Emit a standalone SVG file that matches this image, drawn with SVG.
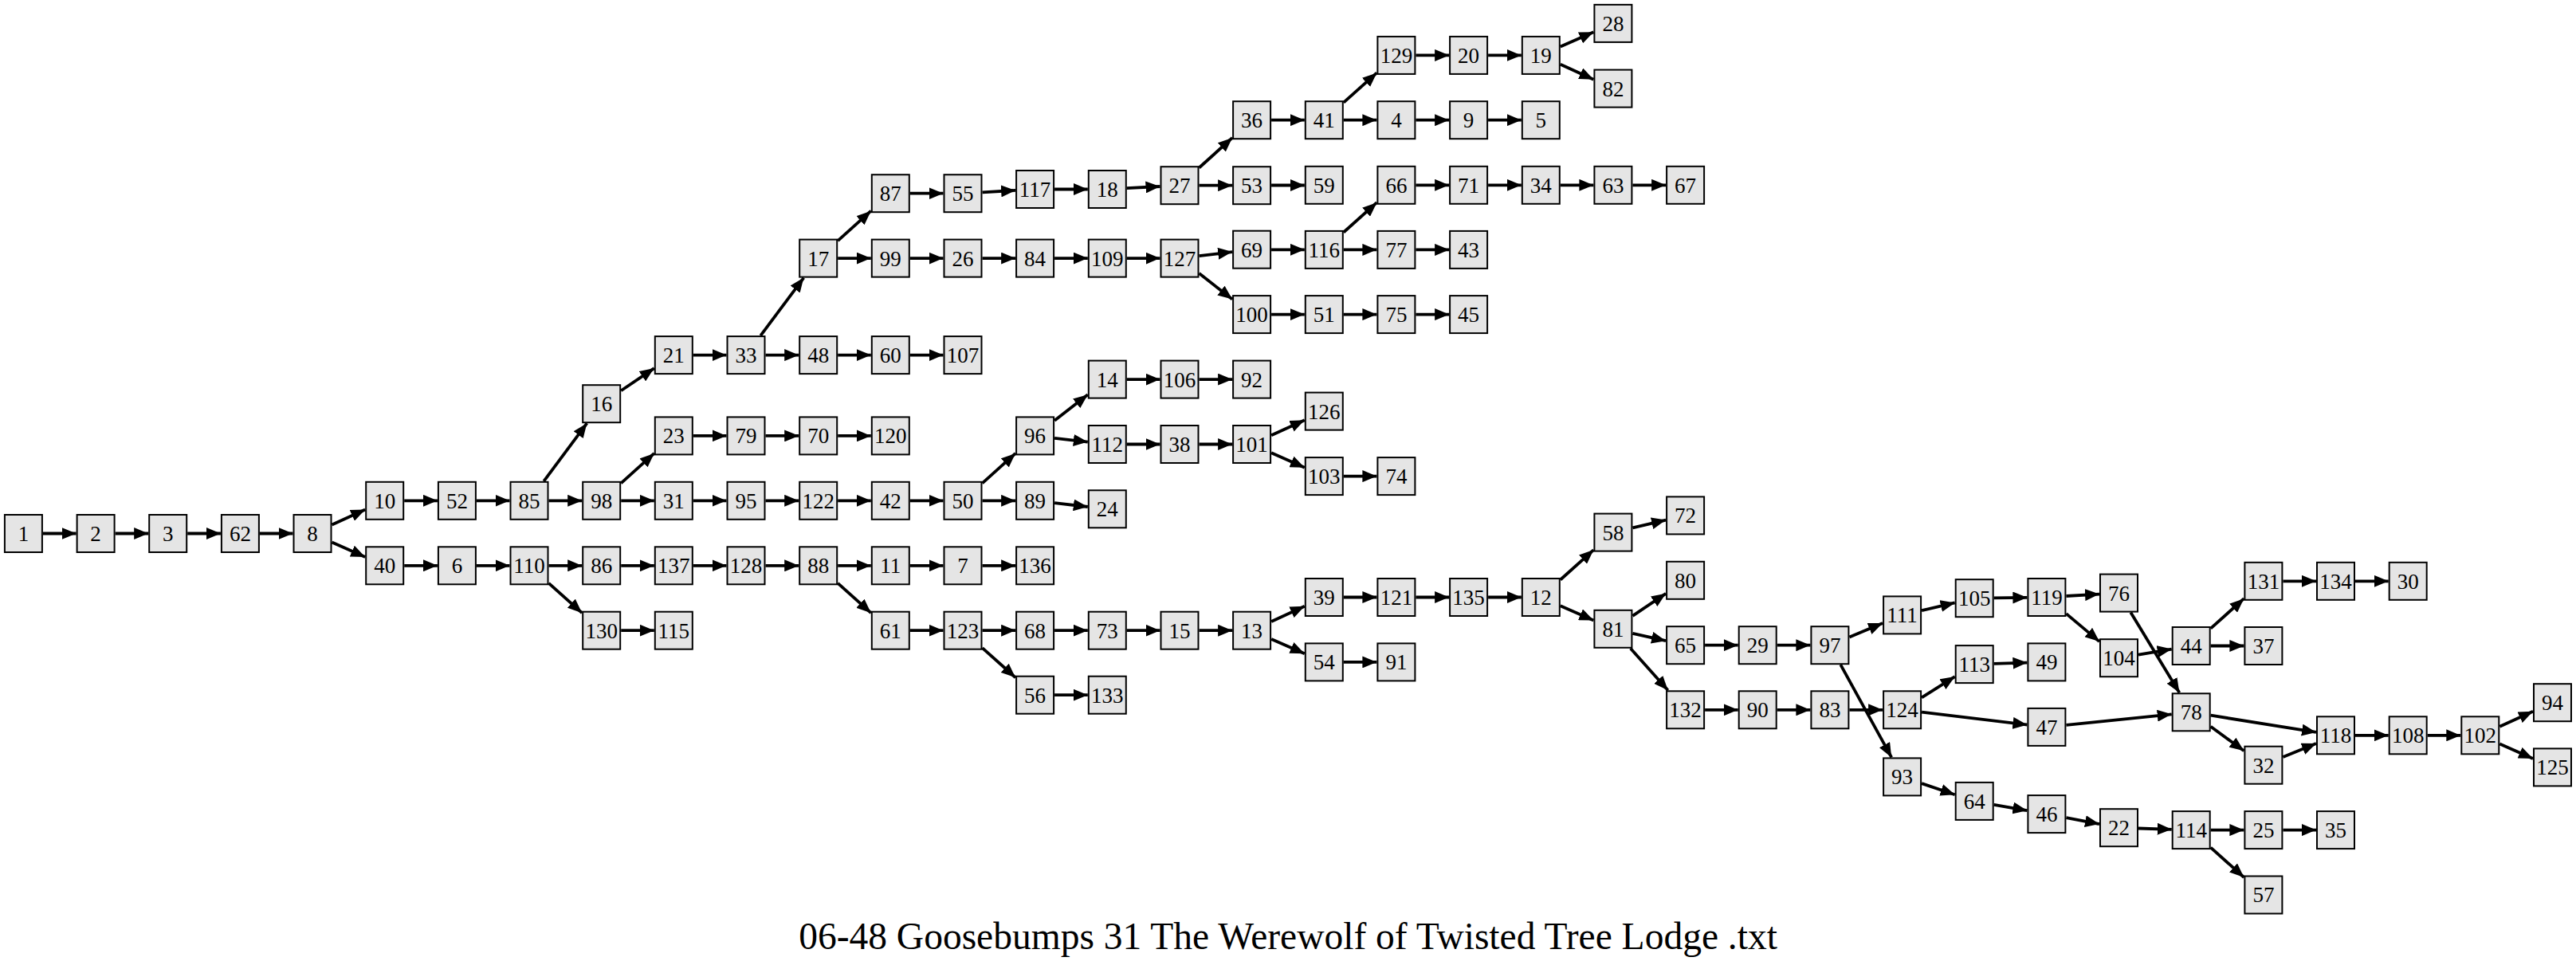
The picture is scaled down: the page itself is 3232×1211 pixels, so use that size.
<svg xmlns="http://www.w3.org/2000/svg" width="3232" height="1211" viewBox="0 0 3232 1211">
<style>
.node rect{fill:#e5e5e5;stroke:#000;stroke-width:2}
.node text{font-size:27px;text-anchor:middle;fill:#000}
#edges path{stroke:#000;stroke-width:3.8;fill:none;marker-end:url(#arr)}
.title{font-size:47.5px;text-anchor:middle;fill:#000}
</style>
<defs>
<marker id="arr" markerUnits="userSpaceOnUse" markerWidth="18" markerHeight="15" refX="18" refY="7.5" orient="auto" viewBox="0 0 18 15"><path d="M0,0 L18,7.5 L0,15 z" fill="#000"/></marker>
</defs>
<rect width="3232" height="1211" fill="#fff"/>
<g id="edges">
<path d="M53.9,669.5 L95.6,669.5"/>
<path d="M144.6,669.5 L186.2,669.5"/>
<path d="M235.2,669.5 L276.9,669.5"/>
<path d="M325.9,669.5 L367.5,669.5"/>
<path d="M416.5,658.4 L458.2,639.4"/>
<path d="M416.5,680.4 L458.2,698.9"/>
<path d="M507.2,628.3 L548.9,628.3"/>
<path d="M597.9,628.3 L639.5,628.3"/>
<path d="M682.3,603.8 L736.4,531.2"/>
<path d="M688.5,628.3 L730.2,628.3"/>
<path d="M779.2,490.2 L820.8,462.1"/>
<path d="M869.8,445.6 L911.5,445.6"/>
<path d="M954.3,421.1 L1008.4,348.6"/>
<path d="M960.5,445.6 L1002.2,445.6"/>
<path d="M1051.2,445.6 L1092.8,445.6"/>
<path d="M1141.8,445.6 L1183.5,445.6"/>
<path d="M1051.2,302.1 L1092.8,264.7"/>
<path d="M1051.2,324.1 L1092.8,324.1"/>
<path d="M1141.8,242.7 L1183.5,242.7"/>
<path d="M1232.5,241.3 L1274.1,238.9"/>
<path d="M1323.1,237.5 L1364.8,237.5"/>
<path d="M1413.8,236.2 L1455.5,234.0"/>
<path d="M1504.5,210.5 L1546.1,172.9"/>
<path d="M1504.5,232.7 L1546.1,232.7"/>
<path d="M1595.1,150.7 L1636.8,150.7"/>
<path d="M1685.8,128.7 L1727.4,91.4"/>
<path d="M1685.8,150.7 L1727.4,150.7"/>
<path d="M1776.4,150.7 L1818.1,150.7"/>
<path d="M1867.1,150.7 L1908.8,150.7"/>
<path d="M1776.4,69.4 L1818.1,69.4"/>
<path d="M1867.1,69.4 L1908.8,69.4"/>
<path d="M1957.8,58.6 L1999.4,40.2"/>
<path d="M1957.8,80.7 L1999.4,99.8"/>
<path d="M1595.1,232.5 L1636.8,232.5"/>
<path d="M1141.8,324.1 L1183.5,324.1"/>
<path d="M1232.5,324.1 L1274.1,324.1"/>
<path d="M1323.1,324.1 L1364.8,324.1"/>
<path d="M1413.8,324.1 L1455.5,324.1"/>
<path d="M1504.5,321.2 L1546.1,316.1"/>
<path d="M1504.5,343.1 L1546.1,375.6"/>
<path d="M1595.1,313.3 L1636.8,313.3"/>
<path d="M1685.8,291.5 L1727.4,254.2"/>
<path d="M1685.8,313.4 L1727.4,313.4"/>
<path d="M1776.4,313.4 L1818.1,313.4"/>
<path d="M1776.4,232.3 L1818.1,232.3"/>
<path d="M1867.1,232.3 L1908.8,232.3"/>
<path d="M1957.8,232.3 L1999.4,232.3"/>
<path d="M2048.4,232.3 L2090.1,232.3"/>
<path d="M1595.1,394.6 L1636.8,394.6"/>
<path d="M1685.8,394.6 L1727.4,394.6"/>
<path d="M1776.4,394.6 L1818.1,394.6"/>
<path d="M779.2,606.3 L820.8,568.9"/>
<path d="M779.2,628.3 L820.8,628.3"/>
<path d="M869.8,546.9 L911.5,546.9"/>
<path d="M960.5,546.9 L1002.2,546.9"/>
<path d="M1051.2,546.9 L1092.8,546.9"/>
<path d="M869.8,628.3 L911.5,628.3"/>
<path d="M960.5,628.3 L1002.2,628.3"/>
<path d="M1051.2,628.3 L1092.8,628.3"/>
<path d="M1141.8,628.3 L1183.5,628.3"/>
<path d="M1232.5,606.3 L1274.1,568.9"/>
<path d="M1232.5,628.3 L1274.1,628.3"/>
<path d="M1323.1,527.8 L1364.8,495.2"/>
<path d="M1323.1,549.8 L1364.8,554.6"/>
<path d="M1413.8,476.1 L1455.5,476.1"/>
<path d="M1504.5,476.1 L1546.1,476.1"/>
<path d="M1413.8,557.5 L1455.5,557.5"/>
<path d="M1504.5,557.5 L1546.1,557.5"/>
<path d="M1595.1,546.3 L1636.8,527.3"/>
<path d="M1595.1,568.3 L1636.8,586.8"/>
<path d="M1685.8,597.6 L1727.4,597.6"/>
<path d="M1323.1,631.1 L1364.8,636.0"/>
<path d="M507.2,709.8 L548.9,709.8"/>
<path d="M597.9,709.8 L639.5,709.8"/>
<path d="M688.5,709.8 L730.2,709.8"/>
<path d="M688.5,731.8 L730.2,769.2"/>
<path d="M779.2,709.8 L820.8,709.8"/>
<path d="M869.8,709.8 L911.5,709.8"/>
<path d="M960.5,709.8 L1002.2,709.8"/>
<path d="M1051.2,709.8 L1092.8,709.8"/>
<path d="M1051.2,731.8 L1092.8,769.2"/>
<path d="M1141.8,709.8 L1183.5,709.8"/>
<path d="M1232.5,709.8 L1274.1,709.8"/>
<path d="M779.2,791.2 L820.8,791.2"/>
<path d="M1141.8,791.2 L1183.5,791.2"/>
<path d="M1232.5,791.2 L1274.1,791.2"/>
<path d="M1232.5,813.1 L1274.1,850.3"/>
<path d="M1323.1,791.2 L1364.8,791.2"/>
<path d="M1413.8,791.2 L1455.5,791.2"/>
<path d="M1504.5,791.2 L1546.1,791.2"/>
<path d="M1595.1,779.9 L1636.8,760.8"/>
<path d="M1595.1,801.9 L1636.8,820.2"/>
<path d="M1323.1,872.2 L1364.8,872.2"/>
<path d="M1685.8,749.5 L1727.4,749.5"/>
<path d="M1776.4,749.5 L1818.1,749.5"/>
<path d="M1867.1,749.5 L1908.8,749.5"/>
<path d="M1957.8,727.5 L1999.4,690.1"/>
<path d="M1957.8,760.3 L1999.4,778.5"/>
<path d="M1685.8,830.9 L1727.4,830.9"/>
<path d="M2048.4,662.4 L2090.1,652.6"/>
<path d="M2048.4,772.8 L2090.1,744.8"/>
<path d="M2048.4,794.8 L2090.1,804.2"/>
<path d="M2045.8,813.8 L2092.7,866.3"/>
<path d="M2139.1,809.7 L2180.7,809.7"/>
<path d="M2229.7,809.7 L2271.4,809.7"/>
<path d="M2320.4,799.5 L2362.1,782.1"/>
<path d="M2309.3,834.2 L2373.2,950.4"/>
<path d="M2411.1,766.2 L2452.7,756.4"/>
<path d="M2501.7,750.4 L2543.4,749.8"/>
<path d="M2592.4,748.0 L2634.0,745.6"/>
<path d="M2592.4,770.1 L2634.0,805.1"/>
<path d="M2673.3,768.6 L2734.4,869.3"/>
<path d="M2683.0,821.6 L2724.7,814.6"/>
<path d="M2773.7,788.6 L2815.4,751.2"/>
<path d="M2773.7,810.5 L2815.4,810.5"/>
<path d="M2864.4,729.3 L2906.0,729.3"/>
<path d="M2955.0,729.3 L2996.7,729.3"/>
<path d="M2139.1,890.8 L2180.7,890.8"/>
<path d="M2229.7,890.8 L2271.4,890.8"/>
<path d="M2320.4,890.8 L2362.1,890.8"/>
<path d="M2411.1,875.3 L2452.7,849.1"/>
<path d="M2411.1,893.7 L2543.4,909.5"/>
<path d="M2501.7,832.9 L2543.4,831.6"/>
<path d="M2592.4,909.9 L2724.7,896.3"/>
<path d="M2773.7,897.7 L2906.0,918.9"/>
<path d="M2773.7,911.7 L2815.4,942.3"/>
<path d="M2864.4,950.1 L2906.0,932.9"/>
<path d="M2955.0,922.8 L2996.7,922.8"/>
<path d="M3045.7,922.8 L3087.3,922.8"/>
<path d="M3136.3,911.7 L3178.0,892.8"/>
<path d="M3136.3,933.6 L3178.0,952.0"/>
<path d="M2411.1,983.1 L2452.7,997.2"/>
<path d="M2501.7,1009.8 L2543.4,1017.2"/>
<path d="M2592.4,1026.2 L2634.0,1034.1"/>
<path d="M2683.0,1039.5 L2724.7,1040.8"/>
<path d="M2773.7,1041.6 L2815.4,1041.6"/>
<path d="M2773.7,1063.6 L2815.4,1101.0"/>
<path d="M2864.4,1041.6 L2906.0,1041.6"/>
</g>
<g id="nodes" font-family="Liberation Serif, Times New Roman, DejaVu Serif, serif">
<g id="n1" class="node" transform="translate(29.4,669.5)"><rect x="-23.5" y="-23.5" width="47" height="47"/><text y="9.4">1</text></g>
<g id="n2" class="node" transform="translate(120.1,669.5)"><rect x="-23.5" y="-23.5" width="47" height="47"/><text y="9.4">2</text></g>
<g id="n3" class="node" transform="translate(210.7,669.5)"><rect x="-23.5" y="-23.5" width="47" height="47"/><text y="9.4">3</text></g>
<g id="n62" class="node" transform="translate(301.4,669.5)"><rect x="-23.5" y="-23.5" width="47" height="47"/><text y="9.4">62</text></g>
<g id="n8" class="node" transform="translate(392.0,669.5)"><rect x="-23.5" y="-23.5" width="47" height="47"/><text y="9.4">8</text></g>
<g id="n10" class="node" transform="translate(482.7,628.3)"><rect x="-23.5" y="-23.5" width="47" height="47"/><text y="9.4">10</text></g>
<g id="n40" class="node" transform="translate(482.7,709.8)"><rect x="-23.5" y="-23.5" width="47" height="47"/><text y="9.4">40</text></g>
<g id="n52" class="node" transform="translate(573.4,628.3)"><rect x="-23.5" y="-23.5" width="47" height="47"/><text y="9.4">52</text></g>
<g id="n6" class="node" transform="translate(573.4,709.8)"><rect x="-23.5" y="-23.5" width="47" height="47"/><text y="9.4">6</text></g>
<g id="n85" class="node" transform="translate(664.0,628.3)"><rect x="-23.5" y="-23.5" width="47" height="47"/><text y="9.4">85</text></g>
<g id="n110" class="node" transform="translate(664.0,709.8)"><rect x="-23.5" y="-23.5" width="47" height="47"/><text y="9.4">110</text></g>
<g id="n16" class="node" transform="translate(754.7,506.7)"><rect x="-23.5" y="-23.5" width="47" height="47"/><text y="9.4">16</text></g>
<g id="n98" class="node" transform="translate(754.7,628.3)"><rect x="-23.5" y="-23.5" width="47" height="47"/><text y="9.4">98</text></g>
<g id="n86" class="node" transform="translate(754.7,709.8)"><rect x="-23.5" y="-23.5" width="47" height="47"/><text y="9.4">86</text></g>
<g id="n130" class="node" transform="translate(754.7,791.2)"><rect x="-23.5" y="-23.5" width="47" height="47"/><text y="9.4">130</text></g>
<g id="n21" class="node" transform="translate(845.3,445.6)"><rect x="-23.5" y="-23.5" width="47" height="47"/><text y="9.4">21</text></g>
<g id="n23" class="node" transform="translate(845.3,546.9)"><rect x="-23.5" y="-23.5" width="47" height="47"/><text y="9.4">23</text></g>
<g id="n31" class="node" transform="translate(845.3,628.3)"><rect x="-23.5" y="-23.5" width="47" height="47"/><text y="9.4">31</text></g>
<g id="n137" class="node" transform="translate(845.3,709.8)"><rect x="-23.5" y="-23.5" width="47" height="47"/><text y="9.4">137</text></g>
<g id="n115" class="node" transform="translate(845.3,791.2)"><rect x="-23.5" y="-23.5" width="47" height="47"/><text y="9.4">115</text></g>
<g id="n33" class="node" transform="translate(936.0,445.6)"><rect x="-23.5" y="-23.5" width="47" height="47"/><text y="9.4">33</text></g>
<g id="n79" class="node" transform="translate(936.0,546.9)"><rect x="-23.5" y="-23.5" width="47" height="47"/><text y="9.4">79</text></g>
<g id="n95" class="node" transform="translate(936.0,628.3)"><rect x="-23.5" y="-23.5" width="47" height="47"/><text y="9.4">95</text></g>
<g id="n128" class="node" transform="translate(936.0,709.8)"><rect x="-23.5" y="-23.5" width="47" height="47"/><text y="9.4">128</text></g>
<g id="n17" class="node" transform="translate(1026.7,324.1)"><rect x="-23.5" y="-23.5" width="47" height="47"/><text y="9.4">17</text></g>
<g id="n48" class="node" transform="translate(1026.7,445.6)"><rect x="-23.5" y="-23.5" width="47" height="47"/><text y="9.4">48</text></g>
<g id="n70" class="node" transform="translate(1026.7,546.9)"><rect x="-23.5" y="-23.5" width="47" height="47"/><text y="9.4">70</text></g>
<g id="n122" class="node" transform="translate(1026.7,628.3)"><rect x="-23.5" y="-23.5" width="47" height="47"/><text y="9.4">122</text></g>
<g id="n88" class="node" transform="translate(1026.7,709.8)"><rect x="-23.5" y="-23.5" width="47" height="47"/><text y="9.4">88</text></g>
<g id="n87" class="node" transform="translate(1117.3,242.7)"><rect x="-23.5" y="-23.5" width="47" height="47"/><text y="9.4">87</text></g>
<g id="n99" class="node" transform="translate(1117.3,324.1)"><rect x="-23.5" y="-23.5" width="47" height="47"/><text y="9.4">99</text></g>
<g id="n60" class="node" transform="translate(1117.3,445.6)"><rect x="-23.5" y="-23.5" width="47" height="47"/><text y="9.4">60</text></g>
<g id="n120" class="node" transform="translate(1117.3,546.9)"><rect x="-23.5" y="-23.5" width="47" height="47"/><text y="9.4">120</text></g>
<g id="n42" class="node" transform="translate(1117.3,628.3)"><rect x="-23.5" y="-23.5" width="47" height="47"/><text y="9.4">42</text></g>
<g id="n11" class="node" transform="translate(1117.3,709.8)"><rect x="-23.5" y="-23.5" width="47" height="47"/><text y="9.4">11</text></g>
<g id="n61" class="node" transform="translate(1117.3,791.2)"><rect x="-23.5" y="-23.5" width="47" height="47"/><text y="9.4">61</text></g>
<g id="n55" class="node" transform="translate(1208.0,242.7)"><rect x="-23.5" y="-23.5" width="47" height="47"/><text y="9.4">55</text></g>
<g id="n26" class="node" transform="translate(1208.0,324.1)"><rect x="-23.5" y="-23.5" width="47" height="47"/><text y="9.4">26</text></g>
<g id="n107" class="node" transform="translate(1208.0,445.6)"><rect x="-23.5" y="-23.5" width="47" height="47"/><text y="9.4">107</text></g>
<g id="n50" class="node" transform="translate(1208.0,628.3)"><rect x="-23.5" y="-23.5" width="47" height="47"/><text y="9.4">50</text></g>
<g id="n7" class="node" transform="translate(1208.0,709.8)"><rect x="-23.5" y="-23.5" width="47" height="47"/><text y="9.4">7</text></g>
<g id="n123" class="node" transform="translate(1208.0,791.2)"><rect x="-23.5" y="-23.5" width="47" height="47"/><text y="9.4">123</text></g>
<g id="n117" class="node" transform="translate(1298.6,237.5)"><rect x="-23.5" y="-23.5" width="47" height="47"/><text y="9.4">117</text></g>
<g id="n84" class="node" transform="translate(1298.6,324.1)"><rect x="-23.5" y="-23.5" width="47" height="47"/><text y="9.4">84</text></g>
<g id="n96" class="node" transform="translate(1298.6,546.9)"><rect x="-23.5" y="-23.5" width="47" height="47"/><text y="9.4">96</text></g>
<g id="n89" class="node" transform="translate(1298.6,628.3)"><rect x="-23.5" y="-23.5" width="47" height="47"/><text y="9.4">89</text></g>
<g id="n136" class="node" transform="translate(1298.6,709.8)"><rect x="-23.5" y="-23.5" width="47" height="47"/><text y="9.4">136</text></g>
<g id="n68" class="node" transform="translate(1298.6,791.2)"><rect x="-23.5" y="-23.5" width="47" height="47"/><text y="9.4">68</text></g>
<g id="n56" class="node" transform="translate(1298.6,872.2)"><rect x="-23.5" y="-23.5" width="47" height="47"/><text y="9.4">56</text></g>
<g id="n18" class="node" transform="translate(1389.3,237.5)"><rect x="-23.5" y="-23.5" width="47" height="47"/><text y="9.4">18</text></g>
<g id="n109" class="node" transform="translate(1389.3,324.1)"><rect x="-23.5" y="-23.5" width="47" height="47"/><text y="9.4">109</text></g>
<g id="n14" class="node" transform="translate(1389.3,476.1)"><rect x="-23.5" y="-23.5" width="47" height="47"/><text y="9.4">14</text></g>
<g id="n112" class="node" transform="translate(1389.3,557.5)"><rect x="-23.5" y="-23.5" width="47" height="47"/><text y="9.4">112</text></g>
<g id="n24" class="node" transform="translate(1389.3,638.8)"><rect x="-23.5" y="-23.5" width="47" height="47"/><text y="9.4">24</text></g>
<g id="n73" class="node" transform="translate(1389.3,791.2)"><rect x="-23.5" y="-23.5" width="47" height="47"/><text y="9.4">73</text></g>
<g id="n133" class="node" transform="translate(1389.3,872.2)"><rect x="-23.5" y="-23.5" width="47" height="47"/><text y="9.4">133</text></g>
<g id="n27" class="node" transform="translate(1480.0,232.7)"><rect x="-23.5" y="-23.5" width="47" height="47"/><text y="9.4">27</text></g>
<g id="n127" class="node" transform="translate(1480.0,324.1)"><rect x="-23.5" y="-23.5" width="47" height="47"/><text y="9.4">127</text></g>
<g id="n106" class="node" transform="translate(1480.0,476.1)"><rect x="-23.5" y="-23.5" width="47" height="47"/><text y="9.4">106</text></g>
<g id="n38" class="node" transform="translate(1480.0,557.5)"><rect x="-23.5" y="-23.5" width="47" height="47"/><text y="9.4">38</text></g>
<g id="n15" class="node" transform="translate(1480.0,791.2)"><rect x="-23.5" y="-23.5" width="47" height="47"/><text y="9.4">15</text></g>
<g id="n36" class="node" transform="translate(1570.6,150.7)"><rect x="-23.5" y="-23.5" width="47" height="47"/><text y="9.4">36</text></g>
<g id="n53" class="node" transform="translate(1570.6,232.7)"><rect x="-23.5" y="-23.5" width="47" height="47"/><text y="9.4">53</text></g>
<g id="n69" class="node" transform="translate(1570.6,313.2)"><rect x="-23.5" y="-23.5" width="47" height="47"/><text y="9.4">69</text></g>
<g id="n100" class="node" transform="translate(1570.6,394.6)"><rect x="-23.5" y="-23.5" width="47" height="47"/><text y="9.4">100</text></g>
<g id="n92" class="node" transform="translate(1570.6,476.1)"><rect x="-23.5" y="-23.5" width="47" height="47"/><text y="9.4">92</text></g>
<g id="n101" class="node" transform="translate(1570.6,557.5)"><rect x="-23.5" y="-23.5" width="47" height="47"/><text y="9.4">101</text></g>
<g id="n13" class="node" transform="translate(1570.6,791.2)"><rect x="-23.5" y="-23.5" width="47" height="47"/><text y="9.4">13</text></g>
<g id="n41" class="node" transform="translate(1661.3,150.7)"><rect x="-23.5" y="-23.5" width="47" height="47"/><text y="9.4">41</text></g>
<g id="n59" class="node" transform="translate(1661.3,232.3)"><rect x="-23.5" y="-23.5" width="47" height="47"/><text y="9.4">59</text></g>
<g id="n116" class="node" transform="translate(1661.3,313.4)"><rect x="-23.5" y="-23.5" width="47" height="47"/><text y="9.4">116</text></g>
<g id="n51" class="node" transform="translate(1661.3,394.6)"><rect x="-23.5" y="-23.5" width="47" height="47"/><text y="9.4">51</text></g>
<g id="n126" class="node" transform="translate(1661.3,516.1)"><rect x="-23.5" y="-23.5" width="47" height="47"/><text y="9.4">126</text></g>
<g id="n103" class="node" transform="translate(1661.3,597.6)"><rect x="-23.5" y="-23.5" width="47" height="47"/><text y="9.4">103</text></g>
<g id="n39" class="node" transform="translate(1661.3,749.5)"><rect x="-23.5" y="-23.5" width="47" height="47"/><text y="9.4">39</text></g>
<g id="n54" class="node" transform="translate(1661.3,830.9)"><rect x="-23.5" y="-23.5" width="47" height="47"/><text y="9.4">54</text></g>
<g id="n129" class="node" transform="translate(1751.9,69.4)"><rect x="-23.5" y="-23.5" width="47" height="47"/><text y="9.4">129</text></g>
<g id="n4" class="node" transform="translate(1751.9,150.7)"><rect x="-23.5" y="-23.5" width="47" height="47"/><text y="9.4">4</text></g>
<g id="n66" class="node" transform="translate(1751.9,232.3)"><rect x="-23.5" y="-23.5" width="47" height="47"/><text y="9.4">66</text></g>
<g id="n77" class="node" transform="translate(1751.9,313.4)"><rect x="-23.5" y="-23.5" width="47" height="47"/><text y="9.4">77</text></g>
<g id="n75" class="node" transform="translate(1751.9,394.6)"><rect x="-23.5" y="-23.5" width="47" height="47"/><text y="9.4">75</text></g>
<g id="n74" class="node" transform="translate(1751.9,597.6)"><rect x="-23.5" y="-23.5" width="47" height="47"/><text y="9.4">74</text></g>
<g id="n121" class="node" transform="translate(1751.9,749.5)"><rect x="-23.5" y="-23.5" width="47" height="47"/><text y="9.4">121</text></g>
<g id="n91" class="node" transform="translate(1751.9,830.9)"><rect x="-23.5" y="-23.5" width="47" height="47"/><text y="9.4">91</text></g>
<g id="n20" class="node" transform="translate(1842.6,69.4)"><rect x="-23.5" y="-23.5" width="47" height="47"/><text y="9.4">20</text></g>
<g id="n9" class="node" transform="translate(1842.6,150.7)"><rect x="-23.5" y="-23.5" width="47" height="47"/><text y="9.4">9</text></g>
<g id="n71" class="node" transform="translate(1842.6,232.3)"><rect x="-23.5" y="-23.5" width="47" height="47"/><text y="9.4">71</text></g>
<g id="n43" class="node" transform="translate(1842.6,313.4)"><rect x="-23.5" y="-23.5" width="47" height="47"/><text y="9.4">43</text></g>
<g id="n45" class="node" transform="translate(1842.6,394.6)"><rect x="-23.5" y="-23.5" width="47" height="47"/><text y="9.4">45</text></g>
<g id="n135" class="node" transform="translate(1842.6,749.5)"><rect x="-23.5" y="-23.5" width="47" height="47"/><text y="9.4">135</text></g>
<g id="n19" class="node" transform="translate(1933.3,69.4)"><rect x="-23.5" y="-23.5" width="47" height="47"/><text y="9.4">19</text></g>
<g id="n5" class="node" transform="translate(1933.3,150.7)"><rect x="-23.5" y="-23.5" width="47" height="47"/><text y="9.4">5</text></g>
<g id="n34" class="node" transform="translate(1933.3,232.3)"><rect x="-23.5" y="-23.5" width="47" height="47"/><text y="9.4">34</text></g>
<g id="n12" class="node" transform="translate(1933.3,749.5)"><rect x="-23.5" y="-23.5" width="47" height="47"/><text y="9.4">12</text></g>
<g id="n28" class="node" transform="translate(2023.9,29.4)"><rect x="-23.5" y="-23.5" width="47" height="47"/><text y="9.4">28</text></g>
<g id="n82" class="node" transform="translate(2023.9,111.1)"><rect x="-23.5" y="-23.5" width="47" height="47"/><text y="9.4">82</text></g>
<g id="n63" class="node" transform="translate(2023.9,232.3)"><rect x="-23.5" y="-23.5" width="47" height="47"/><text y="9.4">63</text></g>
<g id="n58" class="node" transform="translate(2023.9,668.1)"><rect x="-23.5" y="-23.5" width="47" height="47"/><text y="9.4">58</text></g>
<g id="n81" class="node" transform="translate(2023.9,789.3)"><rect x="-23.5" y="-23.5" width="47" height="47"/><text y="9.4">81</text></g>
<g id="n67" class="node" transform="translate(2114.6,232.3)"><rect x="-23.5" y="-23.5" width="47" height="47"/><text y="9.4">67</text></g>
<g id="n72" class="node" transform="translate(2114.6,646.9)"><rect x="-23.5" y="-23.5" width="47" height="47"/><text y="9.4">72</text></g>
<g id="n80" class="node" transform="translate(2114.6,728.3)"><rect x="-23.5" y="-23.5" width="47" height="47"/><text y="9.4">80</text></g>
<g id="n65" class="node" transform="translate(2114.6,809.7)"><rect x="-23.5" y="-23.5" width="47" height="47"/><text y="9.4">65</text></g>
<g id="n132" class="node" transform="translate(2114.6,890.8)"><rect x="-23.5" y="-23.5" width="47" height="47"/><text y="9.4">132</text></g>
<g id="n29" class="node" transform="translate(2205.2,809.7)"><rect x="-23.5" y="-23.5" width="47" height="47"/><text y="9.4">29</text></g>
<g id="n90" class="node" transform="translate(2205.2,890.8)"><rect x="-23.5" y="-23.5" width="47" height="47"/><text y="9.4">90</text></g>
<g id="n97" class="node" transform="translate(2295.9,809.7)"><rect x="-23.5" y="-23.5" width="47" height="47"/><text y="9.4">97</text></g>
<g id="n83" class="node" transform="translate(2295.9,890.8)"><rect x="-23.5" y="-23.5" width="47" height="47"/><text y="9.4">83</text></g>
<g id="n111" class="node" transform="translate(2386.6,771.9)"><rect x="-23.5" y="-23.5" width="47" height="47"/><text y="9.4">111</text></g>
<g id="n124" class="node" transform="translate(2386.6,890.8)"><rect x="-23.5" y="-23.5" width="47" height="47"/><text y="9.4">124</text></g>
<g id="n93" class="node" transform="translate(2386.6,974.9)"><rect x="-23.5" y="-23.5" width="47" height="47"/><text y="9.4">93</text></g>
<g id="n105" class="node" transform="translate(2477.2,750.7)"><rect x="-23.5" y="-23.5" width="47" height="47"/><text y="9.4">105</text></g>
<g id="n113" class="node" transform="translate(2477.2,833.6)"><rect x="-23.5" y="-23.5" width="47" height="47"/><text y="9.4">113</text></g>
<g id="n64" class="node" transform="translate(2477.2,1005.4)"><rect x="-23.5" y="-23.5" width="47" height="47"/><text y="9.4">64</text></g>
<g id="n119" class="node" transform="translate(2567.9,749.5)"><rect x="-23.5" y="-23.5" width="47" height="47"/><text y="9.4">119</text></g>
<g id="n49" class="node" transform="translate(2567.9,830.9)"><rect x="-23.5" y="-23.5" width="47" height="47"/><text y="9.4">49</text></g>
<g id="n47" class="node" transform="translate(2567.9,912.4)"><rect x="-23.5" y="-23.5" width="47" height="47"/><text y="9.4">47</text></g>
<g id="n46" class="node" transform="translate(2567.9,1021.6)"><rect x="-23.5" y="-23.5" width="47" height="47"/><text y="9.4">46</text></g>
<g id="n76" class="node" transform="translate(2658.5,744.1)"><rect x="-23.5" y="-23.5" width="47" height="47"/><text y="9.4">76</text></g>
<g id="n104" class="node" transform="translate(2658.5,825.7)"><rect x="-23.5" y="-23.5" width="47" height="47"/><text y="9.4">104</text></g>
<g id="n22" class="node" transform="translate(2658.5,1038.7)"><rect x="-23.5" y="-23.5" width="47" height="47"/><text y="9.4">22</text></g>
<g id="n44" class="node" transform="translate(2749.2,810.5)"><rect x="-23.5" y="-23.5" width="47" height="47"/><text y="9.4">44</text></g>
<g id="n78" class="node" transform="translate(2749.2,893.8)"><rect x="-23.5" y="-23.5" width="47" height="47"/><text y="9.4">78</text></g>
<g id="n114" class="node" transform="translate(2749.2,1041.6)"><rect x="-23.5" y="-23.5" width="47" height="47"/><text y="9.4">114</text></g>
<g id="n131" class="node" transform="translate(2839.9,729.3)"><rect x="-23.5" y="-23.5" width="47" height="47"/><text y="9.4">131</text></g>
<g id="n37" class="node" transform="translate(2839.9,810.5)"><rect x="-23.5" y="-23.5" width="47" height="47"/><text y="9.4">37</text></g>
<g id="n32" class="node" transform="translate(2839.9,960.2)"><rect x="-23.5" y="-23.5" width="47" height="47"/><text y="9.4">32</text></g>
<g id="n25" class="node" transform="translate(2839.9,1041.6)"><rect x="-23.5" y="-23.5" width="47" height="47"/><text y="9.4">25</text></g>
<g id="n57" class="node" transform="translate(2839.9,1123.0)"><rect x="-23.5" y="-23.5" width="47" height="47"/><text y="9.4">57</text></g>
<g id="n134" class="node" transform="translate(2930.5,729.3)"><rect x="-23.5" y="-23.5" width="47" height="47"/><text y="9.4">134</text></g>
<g id="n118" class="node" transform="translate(2930.5,922.8)"><rect x="-23.5" y="-23.5" width="47" height="47"/><text y="9.4">118</text></g>
<g id="n35" class="node" transform="translate(2930.5,1041.6)"><rect x="-23.5" y="-23.5" width="47" height="47"/><text y="9.4">35</text></g>
<g id="n30" class="node" transform="translate(3021.2,729.3)"><rect x="-23.5" y="-23.5" width="47" height="47"/><text y="9.4">30</text></g>
<g id="n108" class="node" transform="translate(3021.2,922.8)"><rect x="-23.5" y="-23.5" width="47" height="47"/><text y="9.4">108</text></g>
<g id="n102" class="node" transform="translate(3111.8,922.8)"><rect x="-23.5" y="-23.5" width="47" height="47"/><text y="9.4">102</text></g>
<g id="n94" class="node" transform="translate(3202.5,881.7)"><rect x="-23.5" y="-23.5" width="47" height="47"/><text y="9.4">94</text></g>
<g id="n125" class="node" transform="translate(3202.5,962.9)"><rect x="-23.5" y="-23.5" width="47" height="47"/><text y="9.4">125</text></g>
</g>
<text class="title" x="1616" y="1190.7" font-family="Liberation Serif, Times New Roman, DejaVu Serif, serif">06-48 Goosebumps 31 The Werewolf of Twisted Tree Lodge .txt</text>
</svg>
